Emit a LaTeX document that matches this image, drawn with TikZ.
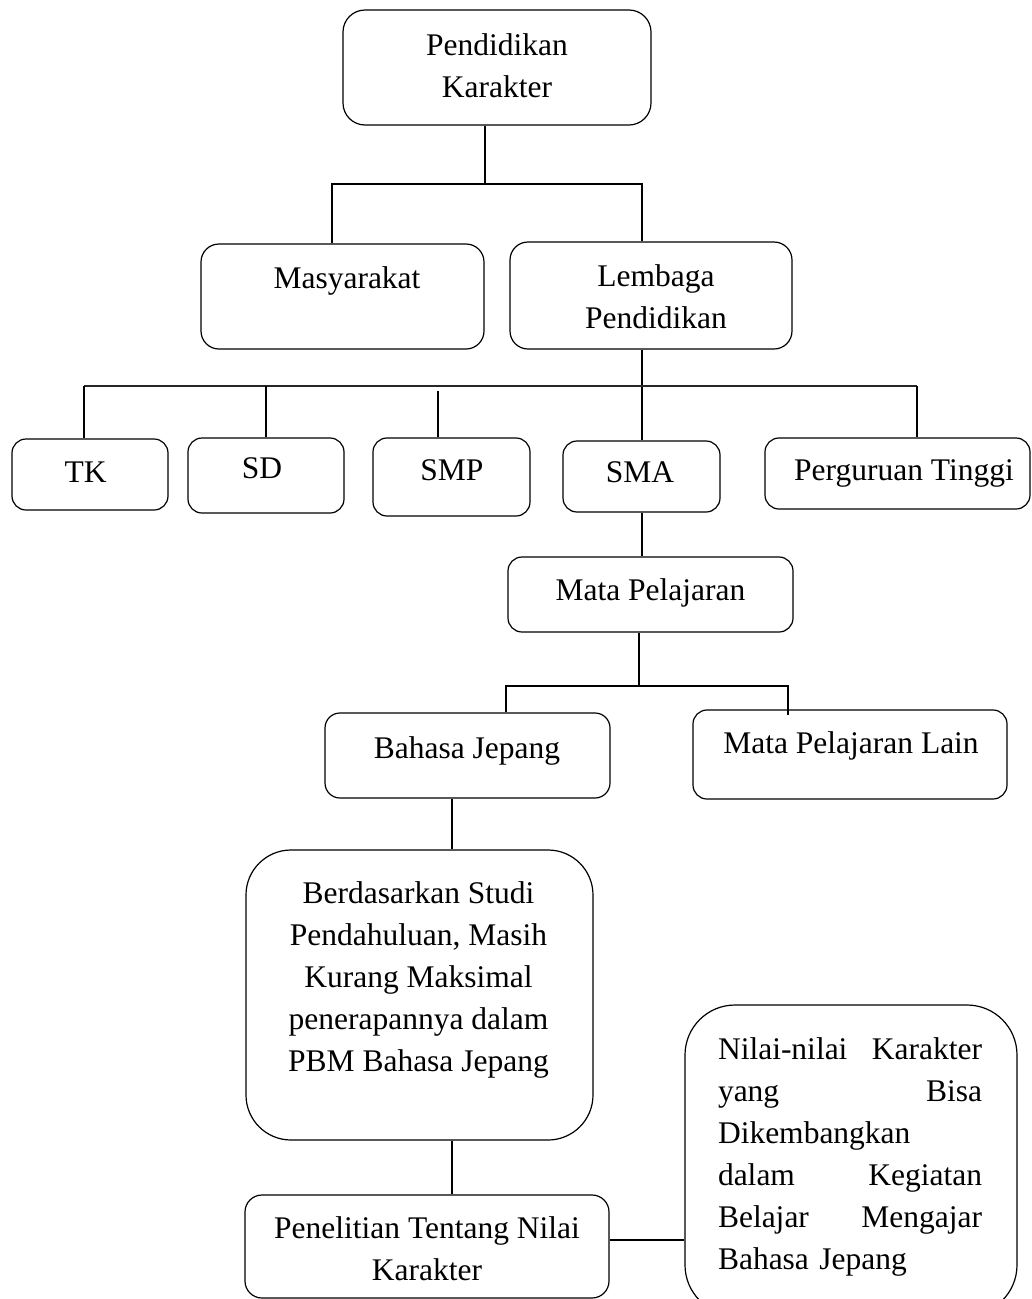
\documentclass[tikz,border=0pt]{standalone}
\usepackage{fontspec}
\setmainfont{Liberation Serif}
\newcommand\diagfs{\fontsize{31.5}{42}\selectfont}
\newcommand\jline[1]{\makebox[264pt][l]{#1}}
\begin{document}
\begin{tikzpicture}[x=1pt,y=-1pt,
  box/.style={draw, line width=1.2pt, rounded corners=#1, inner sep=0pt},
  box/.default=15,
  txt/.style={inner sep=0pt, font=\diagfs},
  conn/.style={line width=1.2pt},
  bus/.style={line width=2.4pt, black!85}]
\useasboundingbox (0,0) rectangle (1032,1299);

% boxes
\node[box=22, minimum width=308, minimum height=115] (pk) at (497,67.5) {};
\node[box=18, minimum width=283, minimum height=105] (masy) at (342.5,296.5) {};
\node[box=18, minimum width=282, minimum height=107] (lemb) at (651,295.5) {};
\node[box=14, minimum width=156, minimum height=71] (tk) at (90,474.5) {};
\node[box=14, minimum width=156, minimum height=75] (sd) at (266,475.5) {};
\node[box=14, minimum width=157, minimum height=78] (smp) at (451.5,477) {};
\node[box=14, minimum width=157, minimum height=71] (sma) at (641.5,476.5) {};
\node[box=14, minimum width=265, minimum height=71] (pt) at (897.5,473.5) {};
\node[box=14, minimum width=285, minimum height=75] (mp) at (650.5,594.5) {};
\node[box=15, minimum width=285, minimum height=85] (bj) at (467.5,755.5) {};
\node[box=14, minimum width=314, minimum height=89] (mpl) at (850,754.5) {};
\node[box=45, minimum width=347, minimum height=290] (bs) at (419.5,995) {};
\node[box=17, minimum width=364, minimum height=103] (pn) at (427,1246.5) {};
\node[box=50, minimum width=332, minimum height=310] (nk) at (851,1160) {};

% texts
\node[txt, align=center] (pkt) at (497,65.3) {Pendidikan\\Karakter};
\node[txt, anchor=base] (masyt) at (347,288) {Masyarakat};
\node[txt, align=center] (lembt) at (656,296.7) {Lembaga\\Pendidikan};
\node[txt, anchor=base] (tkt) at (85.5,482) {TK};
\node[txt, anchor=base] (sdt) at (262,478) {SD};
\node[txt, anchor=base] (smpt) at (452,480) {SMP};
\node[txt, anchor=base] (smat) at (640,482) {SMA};
\node[txt, anchor=base] (ptt) at (904,480) {Perguruan Tinggi};
\node[txt, anchor=base] (mpt) at (650.5,600) {Mata Pelajaran};
\node[txt, anchor=base] (bjt) at (467,758) {Bahasa Jepang};
\node[txt, anchor=base] (mplt) at (851,753) {Mata Pelajaran Lain};
\node[txt, align=center] (bst) at (418.5,979.7) {Berdasarkan Studi\\Pendahuluan, Masih\\Kurang Maksimal\\penerapannya dalam\\PBM Bahasa Jepang};
\node[txt, align=center] (pnt) at (427,1248.5) {Penelitian Tentang Nilai\\Karakter};
\node[txt, text width=264pt, align=left] (nkt) at (850,1156.7) {%
\jline{Nilai-nilai\hfill Karakter}\\
\jline{yang\hfill Bisa}\\
\jline{Dikembangkan}\\
\jline{dalam\hfill Kegiatan}\\
\jline{Belajar\hfill Mengajar}\\
\jline{Bahasa Jepang}};

% junction coordinates
\coordinate (j0) at (485,184);
\coordinate (m1) at (332,184);
\coordinate (m2) at (642,184);
\coordinate (c1) at (642,386);
\coordinate (b1) at (84,386);
\coordinate (b2) at (266,386);
\coordinate (b3) at (438,391);
\coordinate (b4) at (917,386);
\coordinate (d0) at (639,686);
\coordinate (d1) at (506,686);
\coordinate (d2) at (788,686);
\coordinate (d3) at (788,715);
\coordinate (e0) at (452,800);
\coordinate (f0) at (610,1240);

% connectors
\draw[conn] (j0 |- pk.south) -- (j0);
\draw[conn] (m1 |- masy.north) -- (m1) -- (m2) -- (m2 |- lemb.north);
\draw[conn] (c1 |- lemb.south) -- (c1 |- sma.north);
\draw[bus] (b1) -- (b4);
\draw[conn] (b1) -- (b1 |- tk.north);
\draw[conn] (b2) -- (b2 |- sd.north);
\draw[conn] (b3) -- (b3 |- smp.north);
\draw[conn] (b4) -- (b4 |- pt.north);
\draw[conn] (c1 |- sma.south) -- (c1 |- mp.north);
\draw[conn] (d0 |- mp.south) -- (d0);
\draw[conn] (d1 |- bj.north) -- (d1) -- (d2) -- (d3);
\draw[conn] (e0 |- bj.south) -- (e0 |- bs.north);
\draw[conn] (e0 |- bs.south) -- (e0 |- pn.north);
\draw[conn] (pn.east |- f0) -- (nk.west |- f0);
\end{tikzpicture}
\end{document}
